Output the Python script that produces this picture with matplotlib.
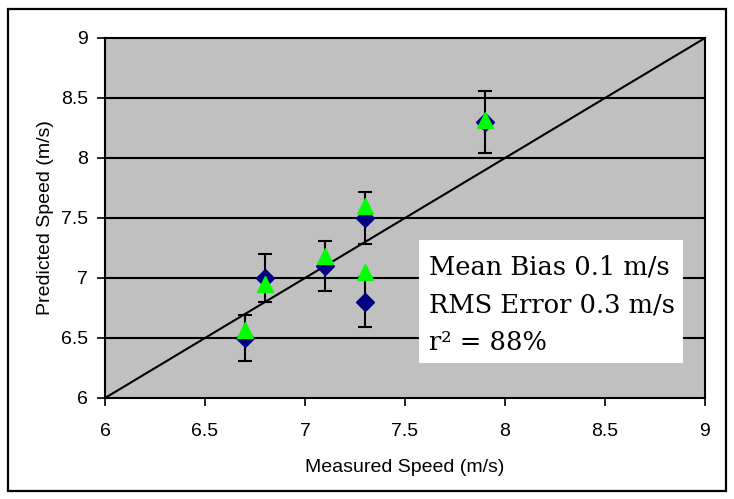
import matplotlib
matplotlib.use("Agg")
import matplotlib.pyplot as plt
from matplotlib.patches import Rectangle

# measured vs predicted speeds (m/s)
measured = [6.7, 6.8, 7.1, 7.3, 7.3, 7.9]
pred_blue = [6.5, 7.0, 7.1, 7.5, 6.8, 8.3]
pred_err = [0.19, 0.2, 0.21, 0.22, 0.21, 0.26]
pred_green = [6.57, 6.95, 7.18, 7.6, 7.05, 8.32]

ticks = [6, 6.5, 7, 7.5, 8, 8.5, 9]
tick_labels = ["6", "6.5", "7", "7.5", "8", "8.5", "9"]
stats_lines = ["Mean Bias 0.1 m/s", "RMS Error 0.3 m/s", "r\u00b2 = 88%"]

W, H = 734, 499
fig = plt.figure(figsize=(W / 100, H / 100), dpi=100)
fig.patch.set_facecolor("white")
ax = fig.add_axes([105 / W, (H - 398) / H, 600 / W, 360 / H])
ax.set_facecolor("#C0C0C0")

# outer frame
fig.add_artist(Rectangle((8 / W, 8 / H), 718 / W, 482 / H, transform=fig.transFigure,
                         fill=False, edgecolor="black", linewidth=1.6))

ax.set_xlim(6, 9)
ax.set_ylim(6, 9)
ax.set_xticks(ticks)
ax.set_xticklabels(tick_labels)
ax.set_yticks(ticks)
ax.set_yticklabels(tick_labels)
for y in ticks[1:-1]:
    ax.axhline(y, color="black", linewidth=1.5, zorder=1)

ax.plot([6, 9], [6, 9], color="black", linewidth=1.5, zorder=2)

ax.errorbar(measured, pred_blue, yerr=pred_err, fmt="none", ecolor="black",
            elinewidth=1.5, capsize=5, capthick=1.5, zorder=3)
ax.plot(measured, pred_blue, linestyle="none", marker="D", markersize=9,
        color="#000080", zorder=4)
ax.plot(measured, pred_green, linestyle="none", marker="^", markersize=12,
        color="#00FF00", zorder=5)

for s in ax.spines.values():
    s.set_color("black")
    s.set_linewidth(1.5)
ax.tick_params(direction="out", length=6, width=1.2, labelsize=14, colors="black")
for lbl in ax.get_xticklabels() + ax.get_yticklabels():
    lbl.set_family("Liberation Sans")
ax.tick_params(axis="x", pad=12)
ax.tick_params(axis="y", pad=6)

ax.set_xlabel("Measured Speed (m/s)", fontsize=14, family="Liberation Sans", labelpad=14)
ax.set_ylabel("Predicted Speed (m/s)", fontsize=14, family="Liberation Sans", labelpad=5)

# stats box
ax.add_patch(Rectangle((0.523, 0.097), 0.44, 0.342, transform=ax.transAxes,
                       facecolor="white", edgecolor="none", zorder=6))
for i, line in enumerate(stats_lines):
    ax.text(0.54, 0.342 - i * 0.104, line, transform=ax.transAxes, fontsize=18.5,
            family="DejaVu Serif", va="baseline", ha="left", zorder=7)

fig.savefig("out.png", dpi=100)
